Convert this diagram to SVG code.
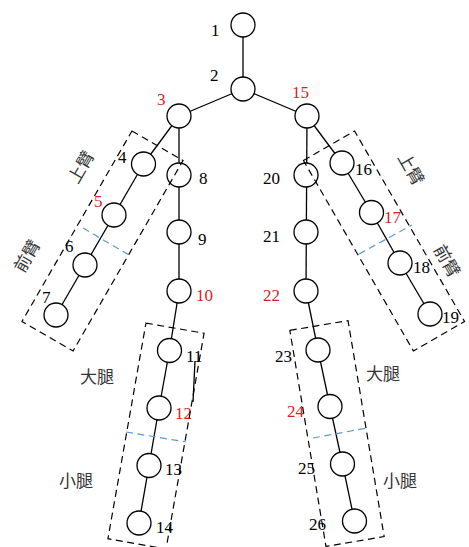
<svg xmlns="http://www.w3.org/2000/svg" width="469" height="547" viewBox="0 0 469 547">
  <style>
    .edge { stroke: #000; stroke-width: 1.3; fill: none; }
    .node circle { fill: #fff; stroke: #000; stroke-width: 1.3; }
    .seg { fill: none; stroke: #000; stroke-width: 1.2; stroke-dasharray: 7 4.5; }
    .split { fill: none; stroke: #5b9bd5; stroke-width: 1.2; stroke-dasharray: 7 4.5; }
    .num { font-family: "Liberation Serif", "Times New Roman", serif; font-size: 17px; fill: #000; }
    .red { fill: #e01b24; }
    .part { font-family: "Noto Sans CJK SC", "Noto Sans CJK JP", sans-serif; font-size: 17px; fill: #333; text-anchor: middle; }
  </style>
  <rect width="469" height="547" fill="#fff"/>

  <!-- skeleton links -->
  <g id="connectors">
    <line class="edge" x1="243" y1="25" x2="243" y2="89"/>
    <line class="edge" x1="243" y1="89" x2="179" y2="116"/>
    <line class="edge" x1="243" y1="89" x2="307" y2="116"/>
    <!-- left arm -->
    <line class="edge" x1="179" y1="116" x2="143.5" y2="164"/>
    <line class="edge" x1="143.5" y1="164" x2="114" y2="215"/>
    <line class="edge" x1="114" y1="215" x2="85" y2="265"/>
    <line class="edge" x1="85" y1="265" x2="56" y2="315"/>
    <!-- left leg -->
    <line class="edge" x1="179" y1="116" x2="179" y2="291"/>
    <line class="edge" x1="179" y1="291" x2="169.5" y2="350.5"/>
    <line class="edge" x1="169.5" y1="350.5" x2="159" y2="408"/>
    <line class="edge" x1="159" y1="408" x2="149" y2="465.5"/>
    <line class="edge" x1="149" y1="465.5" x2="139" y2="523"/>
    <!-- right arm -->
    <line class="edge" x1="307" y1="116" x2="342" y2="163"/>
    <line class="edge" x1="342" y1="163" x2="371.5" y2="212.5"/>
    <line class="edge" x1="371.5" y1="212.5" x2="400" y2="263"/>
    <line class="edge" x1="400" y1="263" x2="430" y2="314"/>
    <!-- right leg -->
    <line class="edge" x1="307" y1="116" x2="306" y2="291"/>
    <line class="edge" x1="306" y1="291" x2="318" y2="350"/>
    <line class="edge" x1="318" y1="350" x2="330" y2="406.5"/>
    <line class="edge" x1="330" y1="406.5" x2="342.5" y2="464"/>
    <line class="edge" x1="342.5" y1="464" x2="354.5" y2="521"/>
    <!-- stray stroke beside joint 11 -->
    <line class="edge" x1="195" y1="361" x2="193" y2="402"/>
  </g>

  <!-- joints -->
  <g id="n1" class="node"><circle cx="243" cy="25" r="12"/><text class="num" x="211" y="36">1</text></g>
  <g id="n2" class="node"><circle cx="243" cy="89" r="12"/><text class="num" x="210" y="81">2</text></g>
  <g id="n3" class="node"><circle cx="179" cy="116" r="12"/><text class="num red" x="157" y="105">3</text></g>
  <g id="n4" class="node"><circle cx="143.5" cy="164" r="12"/><text class="num" x="118" y="163">4</text></g>
  <g id="n5" class="node"><circle cx="114" cy="215" r="12"/><text class="num red" x="94" y="207">5</text></g>
  <g id="n6" class="node"><circle cx="85" cy="265" r="12"/><text class="num" x="65" y="252">6</text></g>
  <g id="n7" class="node"><circle cx="56" cy="315" r="12"/><text class="num" x="42" y="303">7</text></g>
  <g id="n8" class="node"><circle cx="179" cy="175" r="12"/><text class="num" x="199" y="184">8</text></g>
  <g id="n9" class="node"><circle cx="179" cy="232" r="12"/><text class="num" x="198" y="245">9</text></g>
  <g id="n10" class="node"><circle cx="179" cy="291" r="12"/><text class="num red" x="196" y="301">10</text></g>
  <g id="n11" class="node"><circle cx="169.5" cy="350.5" r="12"/><text class="num" x="186" y="362">11</text></g>
  <g id="n12" class="node"><circle cx="159" cy="408" r="12"/><text class="num red" x="175" y="419">12</text></g>
  <g id="n13" class="node"><circle cx="149" cy="465.5" r="12"/><text class="num" x="165" y="475">13</text></g>
  <g id="n14" class="node"><circle cx="139" cy="523" r="12"/><text class="num" x="156" y="533">14</text></g>
  <g id="n15" class="node"><circle cx="307" cy="116" r="12"/><text class="num red" x="292" y="98">15</text></g>
  <g id="n16" class="node"><circle cx="342" cy="163" r="12"/><text class="num" x="355" y="175">16</text></g>
  <g id="n17" class="node"><circle cx="371.5" cy="212.5" r="12"/><text class="num red" x="384" y="223">17</text></g>
  <g id="n18" class="node"><circle cx="400" cy="263" r="12"/><text class="num" x="413" y="273">18</text></g>
  <g id="n19" class="node"><circle cx="430" cy="314" r="12"/><text class="num" x="442" y="323">19</text></g>
  <g id="n20" class="node"><circle cx="306" cy="175" r="12"/><text class="num" x="263" y="184">20</text></g>
  <g id="n21" class="node"><circle cx="306" cy="232" r="12"/><text class="num" x="263" y="242">21</text></g>
  <g id="n22" class="node"><circle cx="306" cy="291" r="12"/><text class="num red" x="263" y="301">22</text></g>
  <g id="n23" class="node"><circle cx="318" cy="350" r="12"/><text class="num" x="275" y="362">23</text></g>
  <g id="n24" class="node"><circle cx="330" cy="406.5" r="12"/><text class="num red" x="287" y="417">24</text></g>
  <g id="n25" class="node"><circle cx="342.5" cy="464" r="12"/><text class="num" x="298" y="474">25</text></g>
  <g id="n26" class="node"><circle cx="354.5" cy="521" r="12"/><text class="num" x="309" y="530">26</text></g>

  <!-- limb segment frames -->
  <g id="segments">
    <rect class="seg" x="-29.5" y="-110" width="59" height="220" transform="translate(102.5 241) rotate(30)"/>
    <rect class="seg" x="-29.5" y="-110" width="59" height="220" transform="translate(384 241) rotate(-30)"/>
    <rect class="seg" x="-29.5" y="-109.5" width="59" height="219" transform="translate(156 436) rotate(10)"/>
    <rect class="seg" x="-29.5" y="-109.5" width="59" height="219" transform="translate(337 433.5) rotate(-9.5)"/>
    <line class="split" x1="83" y1="228" x2="129" y2="255"/>
    <line class="split" x1="359" y1="254" x2="412" y2="225"/>
    <line class="split" x1="126" y1="432" x2="186" y2="442"/>
    <line class="split" x1="313" y1="438" x2="367" y2="428"/>
  </g>

  <!-- segment names -->
  <g id="labels">
    <text class="part" transform="translate(81 167) rotate(-60)" y="6">上臂</text>
    <text class="part" transform="translate(27 256) rotate(-60)" y="6">前臂</text>
    <text class="part" transform="translate(411 169) rotate(60)" y="6">上臂</text>
    <text class="part" transform="translate(447 261) rotate(60)" y="6">前臂</text>
    <text class="part" x="97" y="383">大腿</text>
    <text class="part" x="76" y="487">小腿</text>
    <text class="part" x="383" y="380">大腿</text>
    <text class="part" x="400" y="487">小腿</text>
  </g>
</svg>
